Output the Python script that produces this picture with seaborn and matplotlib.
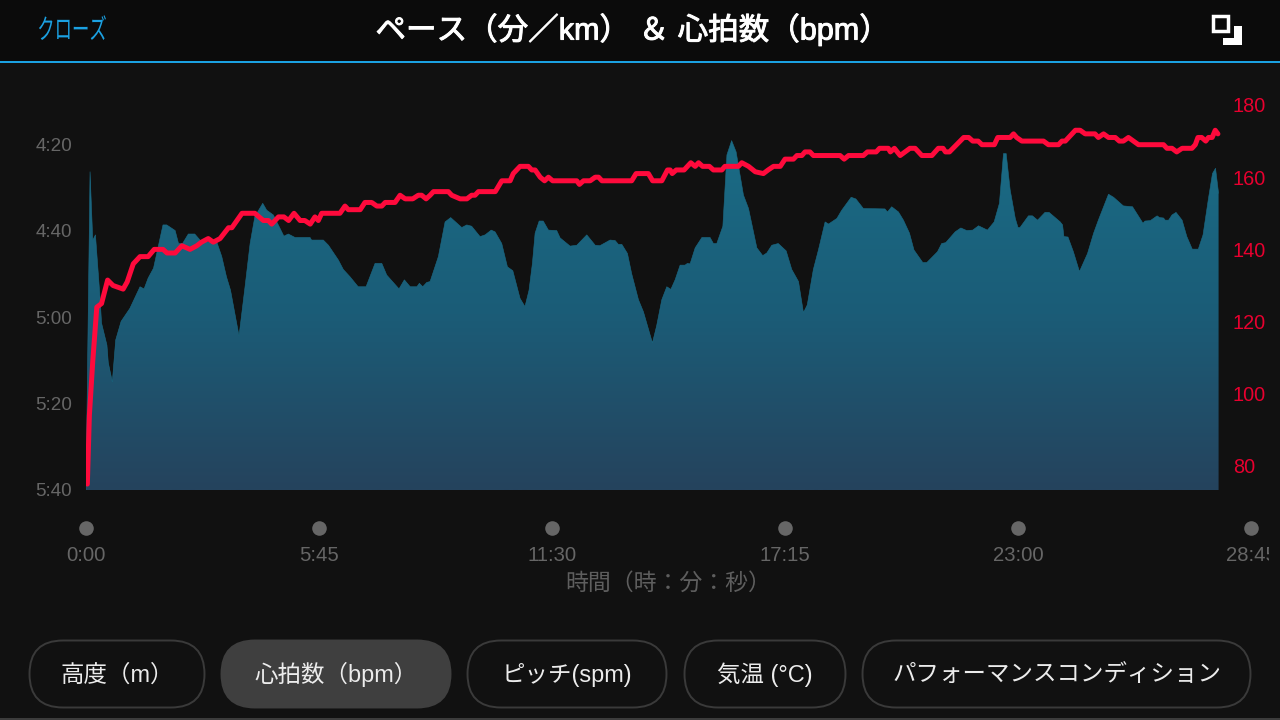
import numpy as np
import pandas as pd
import seaborn as sns
import matplotlib.pyplot as plt
import matplotlib.patheffects as pe
from matplotlib.colors import LinearSegmentedColormap
from matplotlib.patches import FancyBboxPatch, Rectangle
from matplotlib.transforms import Affine2D

# elapsed seconds / pace in seconds per km
pace_time = [0, 6, 10, 14, 21, 23, 31, 33, 39, 44, 52, 65, 80, 86, 92, 100, 114, 119.5, 132, 137, 143, 151.5, 161, 171, 193.5, 201, 208, 214, 226.6, 235.5,
             243, 250, 261.7, 267.6, 277.4, 293, 299.6, 309.5, 331.7, 334, 351.4, 359, 373.6, 381, 391, 403, 414.7, 428, 438, 445.3, 463.5, 471.4, 480, 490, 493.6, 498.6, 504.6, 509.5, 521.8, 531.7,
             540, 556.4, 563.8, 571, 583.5, 591, 600, 605.7, 615.6, 624, 632, 642.7, 650, 656, 661, 665, 671, 677, 684.7, 697, 702, 716.8, 726.7, 741.5, 754, 761, 776, 783.4, 788.3, 793.4,
             801.7, 808, 818, 825.4, 838.7, 845, 852.6, 860, 866, 872.3, 879.7, 887, 890.5, 894.5, 902, 912, 924, 929, 934, 943, 949, 956, 962.6, 973.5, 981, 993.3, 1002, 1008, 1015.5, 1025,
             1036.7, 1045, 1055, 1062.3, 1068, 1077, 1084.5, 1094.4, 1099.4, 1111.8, 1119, 1133, 1140, 1151, 1183, 1186.7, 1193, 1203, 1210.4, 1219.3, 1226, 1239, 1245, 1260.8, 1267, 1273, 1287, 1295.4, 1304, 1313,
             1321.5, 1334.8, 1344.7, 1352.5, 1358.5, 1362.5, 1368.4, 1376, 1380, 1383, 1395.5, 1401.4, 1409, 1420, 1426, 1442.5, 1446, 1448, 1454, 1462, 1471, 1483, 1492, 1499, 1514, 1521.5, 1536, 1549.6, 1565, 1568,
             1576, 1586, 1589.6, 1595.5, 1598, 1603, 1608, 1614, 1623, 1630, 1638, 1647, 1654, 1662, 1668, 1672.5, 1677]
pace_sec = [340, 266.4, 282.2, 281, 296, 301.4, 306.5, 310.6, 315, 305.3, 301, 298, 293, 293.5, 291, 288.7, 278.7, 278.7, 280, 283, 283, 280.8, 280.8, 282.6, 282.6, 286, 290.7, 293.8, 304.4, 293,
            283, 276.8, 273.7, 275.3, 276.4, 281.3, 280.8, 281.6, 281.6, 282.2, 282.2, 283.4, 286.8, 289, 290.7, 293, 293, 287.6, 287.6, 290.3, 293.5, 291.4, 293, 293, 292.2, 293, 292, 291.8, 286, 278,
            277, 279.3, 278.7, 279, 281.4, 281, 279.9, 280.3, 283, 288.4, 289.3, 295.7, 297.6, 293.8, 287.6, 280.6, 277.8, 277.8, 279.9, 280, 281.7, 283.6, 283.4, 281, 283.4, 283.5, 282.2, 282.3, 283.2, 283.2,
            285.3, 290, 296, 298.8, 306, 302, 296, 293, 293.6, 291.4, 288, 288, 287.6, 287.7, 284, 281.6, 281.6, 283, 283, 279, 262.5, 259.2, 261.8, 271.8, 274.9, 284, 285.8, 285.2, 283.4, 283,
            284.7, 289, 291.8, 299, 297.2, 289, 284.5, 278, 278.5, 277.2, 275.3, 272.3, 272.7, 274.9, 275, 275.7, 274.5, 275.7, 277.6, 280.6, 284.5, 287.4, 287.4, 284.9, 283, 282.8, 280.3, 279.4, 280, 279.9,
            278.9, 279.9, 278, 273.7, 262.2, 262.2, 270.6, 277.2, 279.3, 279.3, 276.6, 276.6, 277.6, 275.8, 275.8, 278, 278.7, 281.4, 281.5, 284.9, 289.5, 285.3, 280.6, 277.6, 271.6, 272.3, 274.3, 274.5, 278.3, 277.8,
            277.7, 276.6, 277, 277.1, 277.6, 277.6, 276.4, 275.8, 277.6, 281.4, 284.3, 284.3, 281, 272.6, 266.8, 265.6, 271.4]

hr_time = [2, 5, 10, 16, 23, 32, 40, 55, 61, 70, 80, 92, 101, 114, 120, 132, 142, 154, 164, 171, 181, 188.5, 198.5, 211, 216, 231, 250, 262.6, 270, 275, 285, 293, 300, 308, 317, 324, 332, 339, 344, 349,
           359, 376, 383.5, 388.4, 406, 413, 423, 430.6, 438, 443, 457.6, 465, 472.6, 483.8, 492, 497, 503.6, 509.5, 514.5, 536.5, 541.5, 554, 564, 571, 576, 581, 606, 615.6, 628, 632.6, 642.7, 655, 660, 665, 672.5, 679, 684.7, 691, 726.7, 730.6,
           736.6, 746.5, 754, 759, 764, 808, 814.5, 832.7, 839, 852.6, 861, 865, 868, 874, 885.6, 895.5, 902, 907, 913, 923, 929, 941.5, 946, 966, 971, 981, 991, 1003, 1010, 1018, 1028, 1035, 1047.5, 1052.6, 1060, 1064.6, 1072, 1077, 1116.6, 1122.6,
           1129, 1151, 1157, 1170, 1175, 1188, 1191, 1197, 1205.5, 1220, 1227.7, 1237.6, 1252.5, 1262, 1269, 1272.6, 1278.5, 1299.6, 1307, 1313, 1321, 1326.6, 1345, 1350, 1368.4, 1373.4, 1378, 1385.7, 1417.8, 1425, 1440, 1445, 1450, 1465, 1472, 1479.5, 1494, 1499,
           1506.7, 1514, 1524, 1530, 1536, 1543.5, 1558.4, 1595.5, 1600.5, 1608, 1615, 1623, 1637.6, 1642.5, 1646.4, 1652, 1658, 1662, 1667.5, 1672, 1676]
hr_bpm = [75, 94, 109, 124, 125, 131.5, 130, 129, 131, 136, 138, 138, 140, 140, 139, 139, 141, 140, 141, 142, 143, 142, 143, 146, 146, 150, 150, 148, 148, 147, 149, 149, 148, 150, 148, 148, 147, 149, 148, 150,
          150, 150, 152, 151, 151, 153, 153, 152, 152, 153, 153, 155, 154, 154, 155, 155, 154, 155, 156, 156, 155, 154, 154, 155, 155, 156, 156, 159, 159, 161, 163, 163, 162, 162, 160, 159, 160, 159, 159, 158,
          159, 159, 160, 160, 159, 159, 161, 161, 159, 159, 162, 162, 161, 162, 162, 164, 163, 164, 163, 163, 162, 162, 163, 163, 164, 163, 161.5, 161, 162, 163, 163, 165, 165, 166, 166, 167, 167, 166, 166, 165,
          166, 166, 167, 167, 168, 168, 167, 168, 166, 168, 168, 166, 166, 168, 168, 167, 167, 171, 171, 170, 170, 169, 169, 171, 171, 172, 171, 170, 170, 169, 169, 170, 170, 173, 173, 172, 172, 171,
          172, 171, 171, 170, 170, 171, 169, 169, 168, 168, 167, 168, 168, 169, 171, 171, 170, 171, 171, 173, 172]

pace_ticks = [260, 280, 300, 320, 340]
pace_labels = ['4:20', '4:40', '5:00', '5:20', '5:40']
hr_ticks = [80, 100, 120, 140, 160, 180]
time_ticks = [0, 345, 690, 1035, 1380, 1725]
time_labels = ['0:00', '5:45', '11:30', '17:15', '23:00', '28:45']
buttons = ['高度（m）', '心拍数（bpm）', 'ピッチ(spm)', '気温 (°C)', 'パフォーマンスコンディション']

W, H = 1280, 720


class TallText(pe.AbstractPathEffect):
    # the close label is drawn narrow and tall in the app
    def __init__(self, y_px, factor):
        super().__init__()
        self.y_px = y_px
        self.factor = factor

    def draw_path(self, renderer, gc, tpath, affine, rgbFace=None):
        stretch = Affine2D().translate(0, -self.y_px).scale(1, self.factor).translate(0, self.y_px)
        renderer.draw_path(gc, tpath, affine + stretch, rgbFace)


sns.set_theme(style='dark', rc={'axes.facecolor': '#111111', 'figure.facecolor': '#111111'})
plt.rcParams['font.family'] = ['Liberation Sans', 'Noto Sans CJK JP']

fig = plt.figure(figsize=(W / 100, H / 100), dpi=100)
# plot box: 0:00 at x=86, 28:45 at x=1251, baseline y=490
ax = fig.add_axes([86 / W, 1 - 490 / H, (1251 - 86) / W, 400 / H])
ax2 = ax.twinx()
ax.set_facecolor('#111111')
ax2.patch.set_alpha(0)

pace = pd.DataFrame({'t': pace_time, 'pace': pace_sec})
heart = pd.DataFrame({'t': hr_time, 'bpm': hr_bpm})

sns.lineplot(data=pace, x='t', y='pace', ax=ax, color='#1a6a85', linewidth=0.4, estimator=None, sort=False)
ax.set_xlim(0, 1725)
ax.set_ylim(340, 247.5)

# gradient under the pace outline
cmap = LinearSegmentedColormap.from_list('pace', ['#1a6c86', '#1b5c77', '#25435d'])
poly = ax.fill_between(pace['t'], pace['pace'], 340, color='none')
grad = ax.imshow(np.linspace(0, 1, 256).reshape(-1, 1), cmap=cmap, aspect='auto',
                 extent=[0, 1725, 340, 259], zorder=1)
grad.set_clip_path(poly.get_paths()[0], ax.transData)
ax.set_xlim(0, 1725)
ax.set_ylim(340, 247.5)

sns.lineplot(data=heart, x='t', y='bpm', ax=ax2, color='#ff0a3c', linewidth=3.6, estimator=None, sort=False,
             solid_joinstyle='round', solid_capstyle='round')
ax2.set_ylim(73.35, 184.15)

for a in (ax, ax2):
    a.grid(False)
    a.set_xlabel('')
    a.set_ylabel('')
    for s in a.spines.values():
        s.set_visible(False)

ax.set_yticks(pace_ticks, pace_labels)
ax.tick_params(axis='y', colors='#666666', labelsize=13.6, length=0, pad=10)
ax2.set_yticks(hr_ticks, [str(v) for v in hr_ticks])
ax2.tick_params(axis='y', colors='#e8002f', labelsize=14.3, length=0, pad=-13)
ax.set_xticks(time_ticks, time_labels)
ax.tick_params(axis='x', colors='#666666', labelsize=14.6, length=0, pad=40)
ax.set_xlabel('時間（時：分：秒）', color='#5e5e5e', fontsize=16.5, labelpad=5)

sns.scatterplot(x=time_ticks, y=[0.5] * 6, ax=ax, color='#666666', s=110, linewidth=0, legend=False,
                clip_on=False, transform=ax.get_xaxis_transform())
ax.collections[-1].set_offsets(np.column_stack([time_ticks, [-38 / 400] * 6]))
ax.set_ylim(340, 247.5)

# app chrome in pixel coordinates
ui = fig.add_axes([0, 0, 1, 1], zorder=5)
ui.set_xlim(0, W)
ui.set_ylim(H, 0)
ui.axis('off')
ui.add_patch(Rectangle((0, 0), W, 62, color='#0b0b0b', lw=0))
ui.add_patch(Rectangle((0, 61), W, 2, color='#1ba1e2', lw=0))
ui.add_patch(Rectangle((0, 718), W, 2, color='#3c3c3c', lw=0))
# last time label runs off the screen in the app
ui.add_patch(Rectangle((1269, 540), 11, 28, color='#111111', lw=0))

ui.text(72, 31, 'クローズ', color='#1ba1e2', fontsize=12.5, ha='center', va='center',
        path_effects=[TallText(H - 31, 1.6)])
ui.text(632, 30, 'ペース（分／km） ＆ 心拍数（bpm）', color='white', fontsize=22,
        ha='center', va='center', path_effects=[pe.withStroke(linewidth=0.7, foreground='white')])

ui.add_patch(Rectangle((1212.75, 15.75), 15.5, 15.5, fill=False, ec='white', lw=2.5))
ui.add_patch(Rectangle((1234.3, 26), 7.4, 19, color='white', lw=0))
ui.add_patch(Rectangle((1222.7, 37.7), 19, 7.3, color='white', lw=0))

spans = [(29, 205), (221, 451), (467, 667), (684, 846), (862, 1251)]
for i, (lbl, (x0, x1)) in enumerate(zip(buttons, spans)):
    active = i == 1
    ui.add_patch(FancyBboxPatch((x0 + 34, 674), x1 - x0 - 68, 0, boxstyle='round,pad=33.5,rounding_size=33.5',
                                fc='#3f3f3f' if active else 'none', ec='#3f3f3f' if active else '#3a3a3a', lw=1.4))
    ui.text((x0 + x1) / 2, 682, lbl, color='#ececec', fontsize=16.9, ha='center', va='baseline')

fig.savefig('out.png', dpi=100, facecolor=fig.get_facecolor())
